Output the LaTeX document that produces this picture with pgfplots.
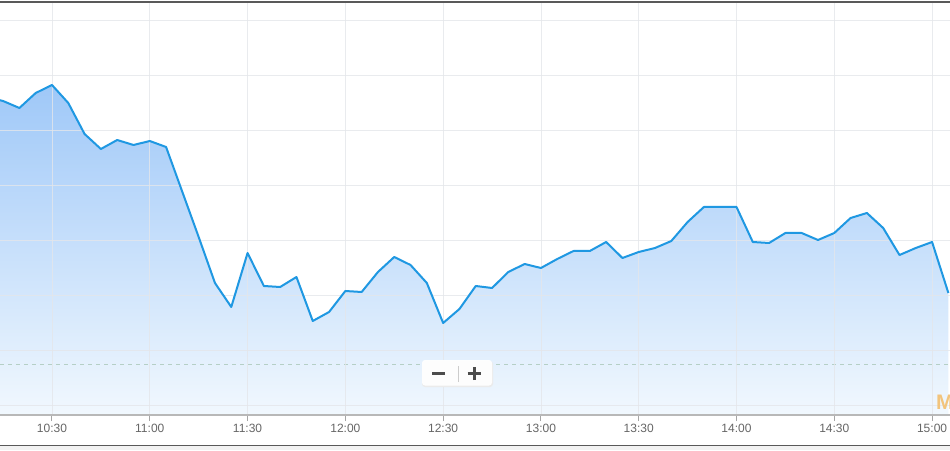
\documentclass[border=0pt]{standalone}
\usepackage{pgfplots}
\pgfplotsset{compat=1.18}
\usepackage{fontspec}
\setmainfont{Liberation Sans}
\definecolor{linecol}{HTML}{1F98E2}
\definecolor{filltop}{HTML}{9FC8F8}
\definecolor{fillbot}{HTML}{F1F8FE}
\definecolor{gridcol}{HTML}{E4E6EA}
\definecolor{dashcol}{HTML}{B5CFC6}
\definecolor{labcol}{HTML}{666666}
\definecolor{wmark}{HTML}{F2C47C}
\pgfplotstableread{
t v
10 318
15 314
20 307
25 322
30 330
35 312
40 281
45 266
50 275
55 270
60 274
65 268
70 223
75 178
80 132
85 108
90 162
95 129
100 128
105 138
110 94
115 103
120 124
125 123
130 143
135 158
140 150
145 132
150 92
155 106
160 129
165 127
170 143
175 151
180 147
185 156
190 164
195 164
200 173
205 157
210 163
215 167
220 174
225 193
230 208
235 208
240 208
245 173
250 172
255 182
260 182
265 175
270 182
275 197
280 202
285 187
290 160
295 167
300 173
305 122
}\pricedata
\pgfplotsset{common/.style={
  at={(0pt,35pt)}, anchor=south west,
  scale only axis, width=950pt, height=413pt,
  xmin=14.05, xmax=305.5, ymin=0, ymax=413}}
\begin{document}
\begin{tikzpicture}[x=1pt,y=1pt]
\useasboundingbox (0,0) rectangle (950,450);
\fill[white] (0,0) rectangle (950,450);
\begin{axis}[
  common,
  axis line style={draw=none},
  xtick={30,60,90,120,150,180,210,240,270,300},
  xticklabels={10:30,11:00,11:30,12:00,12:30,13:00,13:30,14:00,14:30,15:00},
  ytick={10,65,120,175,230,285,340,395},
  yticklabels={,,,,,,,},
  ytick style={draw=none},
  xtick pos=bottom,
  tick align=outside,
  major tick length=6pt,
  x tick style={draw=black!35, line width=1pt},
  xticklabel style={font=\fontsize{12}{14}\selectfont, text=labcol, inner sep=3pt},
  /pgf/number format/assume math mode=true,
  grid=major,
  major grid style={draw=gridcol, line width=0.8pt, opacity=0.8},
  axis on top,
]
\addplot[draw=none, top color=filltop, bottom color=fillbot] table[x=t, y=v] {\pricedata} \closedcycle;
\addplot[dashcol, line width=0.8pt, dash pattern=on 4pt off 4pt, mark=none] coordinates {(14.05,51) (305.5,51)};
\end{axis}
\begin{axis}[common, hide axis]
\addplot[linecol, line width=2pt, mark=none, line join=round] table[x=t, y=v] {\pricedata};
\end{axis}
% frame lines
\draw[black!28, line width=2pt] (0,35) -- (950,35);
\draw[black!65, line width=1.5pt] (0,448) -- (950,448);
\fill[black!5] (0,0) rectangle (950,3.6);
\draw[black!65, line width=1.5pt] (0,4.3) -- (950,4.3);
% zoom control
\fill[black!8, rounded corners=3pt] (422,63) rectangle (493,89);
\fill[white, opacity=0.95, rounded corners=3pt] (422,64.5) rectangle (492,90);
\draw[black!20, line width=0.8pt] (458,68) -- (458,84);
\draw[black!70, line width=3pt] (432,76.5) -- (445,76.5);
\draw[black!70, line width=3pt] (467.5,76.5) -- (480.5,76.5);
\draw[black!70, line width=3pt] (474,70) -- (474,83);
% watermark
\node[anchor=south west, inner sep=0, text=wmark, font=\bfseries\fontsize{21}{21}\selectfont] at (936,40) {M};
\end{tikzpicture}
\end{document}
